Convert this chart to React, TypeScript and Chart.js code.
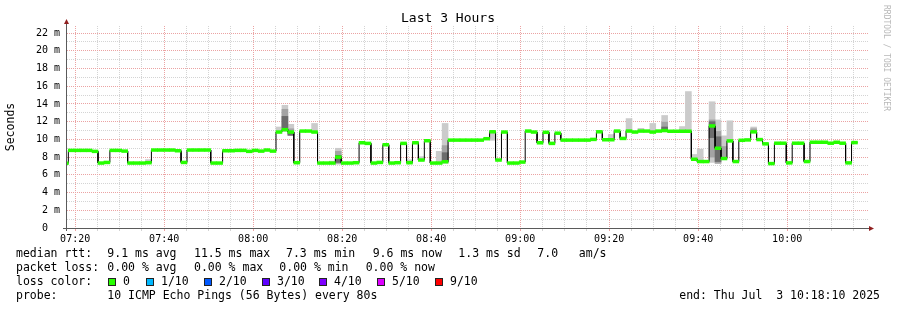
import { useEffect, useRef } from 'react';
import { Chart, registerables } from 'chart.js';
Chart.register(...registerables);

const FONT = '"DejaVu Sans Mono", monospace';

// ---- time axis (minutes after 07:00) ----
const VIEW_START = 18 + 10 / 60; // 07:18:10
const VIEW_END = VIEW_START + 180; // 10:18:10
const FIRST_SAMPLE = 17 + 8 / 60; // start of first 80 s sample
const SAMPLE_STEP = 80 / 60;

const xGridMinutes = [20, 25, 30, 35, 40, 45, 50, 55, 60, 65, 70, 75, 80, 85, 90, 95, 100, 105, 110, 115, 120, 125, 130, 135, 140, 145, 150, 155, 160, 165, 170, 175, 180, 185, 190, 195];
const xLabelMinutes = [20, 40, 60, 80, 100, 120, 140, 160, 180];
const xLabels = ['07:20', '07:40', '08:00', '08:20', '08:40', '09:00', '09:20', '09:40', '10:00'];

const yGridValues = [0, 1, 2, 3, 4, 5, 6, 7, 8, 9, 10, 11, 12, 13, 14, 15, 16, 17, 18, 19, 20, 21, 22];
const yLabelValues = [0, 2, 4, 6, 8, 10, 12, 14, 16, 18, 20, 22];
const yLabels = ['0  ', '2 m', '4 m', '6 m', '8 m', '10 m', '12 m', '14 m', '16 m', '18 m', '20 m', '22 m'];
const Y_MAX = 22.8;

// ---- median RTT per 80 s sample (ms) ----
const medianRtt = [
  7.3, 8.76, 8.76, 8.76, 8.76, 8.65, 7.33, 7.4, 8.76, 8.76,
  8.68, 7.33, 7.33, 7.33, 7.37, 8.8, 8.8, 8.8, 8.8, 8.72,
  7.4, 8.8, 8.8, 8.8, 8.8, 7.33, 7.33, 8.72, 8.72, 8.76,
  8.76, 8.65, 8.76, 8.68, 8.8, 8.68, 10.83, 11.1, 10.83, 7.37,
  10.94, 10.94, 10.83, 7.33, 7.33, 7.33, 8.0, 7.33, 7.33, 7.37,
  9.62, 9.55, 7.33, 7.4, 9.4, 7.33, 7.37, 9.55, 7.37, 9.62,
  7.67, 9.85, 7.33, 7.33, 7.48, 9.92, 9.92, 9.92, 9.92, 9.92,
  9.92, 10.08, 10.86, 7.67, 10.83, 7.33, 7.33, 7.44, 10.94, 10.83,
  9.62, 10.8, 9.55, 10.7, 9.92, 9.92, 9.92, 9.92, 9.92, 10.0,
  10.86, 9.96, 9.96, 10.94, 10.11, 10.94, 10.83, 10.94, 10.94, 10.83,
  10.94, 11.0, 10.92, 10.92, 10.92, 10.92, 7.76, 7.5, 7.5, 11.52,
  9.0, 7.84, 9.83, 7.5, 9.9, 9.94, 10.85, 9.98, 9.5, 7.27,
  9.57, 9.57, 7.35, 9.57, 9.57, 7.5, 9.68, 9.68, 9.68, 9.57,
  9.68, 9.57, 7.35, 9.64,
];

// ---- smoke (ping spread) for samples that show any ----
const smokeIndex = [14, 36, 37, 38, 42, 45, 46, 58, 60, 63, 64, 72, 92, 95, 97, 99, 101, 104, 105, 106, 107, 109, 110, 111, 112, 116];
const smokeLightLow = [7.33, 10.8, 10.9, 10.5, 10.8, 7.33, 7.2, 7.4, 7.6, 7.33, 7.3, 9.9, 10.0, 10.9, 10.9, 10.8, 10.9, 10.9, 10.9, 7.7, 7.5, 7.4, 7.3, 7.8, 9.8, 10.8];
const smokeLightHigh = [7.72, 11.4, 13.85, 11.7, 11.8, 7.55, 9.0, 7.7, 8.05, 8.65, 11.8, 10.9, 10.55, 12.35, 11.25, 11.8, 12.7, 11.45, 15.4, 8.3, 8.9, 14.25, 12.2, 10.4, 12.1, 11.4];
const smokeMidLow = [null, null, 11.2, 10.6, null, null, 7.3, null, null, null, 7.4, null, null, null, null, null, 11.0, null, null, null, null, 8.0, 7.3, 8.0, null, 10.9];
const smokeMidHigh = [null, null, 13.4, 11.2, null, null, 8.65, null, null, null, 9.3, null, null, null, null, null, 11.95, null, null, null, null, 12.2, 10.9, 9.2, null, 11.2];
const smokeDarkLow = [null, null, 11.3, 10.45, null, null, 7.4, null, null, null, 7.45, null, null, null, null, null, 11.05, null, null, null, null, 10.2, 7.5, null, null, null];
const smokeDarkHigh = [null, null, 12.6, 10.75, null, null, 8.2, null, null, null, 8.5, null, null, null, null, null, 11.4, null, null, null, null, 12.0, 10.3, null, null, null];

// ---- legend texts ----
const rttStats = ['9.1 ms avg', '11.5 ms max', '7.3 ms min', '9.6 ms now', '1.3 ms sd', '7.0   am/s'];
const rttStatX = [107.3, 194, 286, 372.7, 458.3, 537.3];
const lossStats = ['0.00 % avg', '0.00 % max', '0.00 % min', '0.00 % now'];
const lossStatX = [107.3, 194, 279.3, 365.7];
const lossLabels = ['0', '1/10', '2/10', '3/10', '4/10', '5/10', '9/10'];
const lossColors = ['#26ff00', '#00b8ff', '#0059ff', '#5e00ff', '#7e00ff', '#dd00ff', '#ff0000'];
const lossBoxX = [108.3, 146, 204, 261.7, 319.3, 377.3, 435];
const probeText = '10 ICMP Echo Pings (56 Bytes) every 80s';
const endText = 'end: Thu Jul  3 10:18:10 2025';

const GREEN = '#26ff00';
const GRID_MINOR = '#d4d4d4';
const GRID_MAJOR = '#eba3a3';
const AXIS = '#5a5a5a';
const ARROW = '#902020';
const BAND = 0.16;

const sampleStart = (i: number) => FIRST_SAMPLE + i * SAMPLE_STEP;
const sampleCenter = (i: number) => sampleStart(i) + SAMPLE_STEP / 2;

function smokeData(lo: (number | null)[], hi: (number | null)[]) {
  const out: { x: number; y: [number, number] }[] = [];
  smokeIndex.forEach((idx, k) => {
    const a = lo[k];
    const b = hi[k];
    if (a != null && b != null) out.push({ x: sampleCenter(idx), y: [a, b] });
  });
  return out;
}

const decorPlugin = {
  id: 'decor',
  afterDraw(chart: any) {
    const { ctx, chartArea: a } = chart;
    ctx.save();
    // axes
    ctx.strokeStyle = AXIS;
    ctx.lineWidth = 1;
    ctx.beginPath();
    ctx.moveTo(a.left - 0.5, a.bottom + 3);
    ctx.lineTo(a.left - 0.5, a.top - 2);
    ctx.moveTo(a.left - 4, a.bottom + 0.5);
    ctx.lineTo(a.right + 1, a.bottom + 0.5);
    ctx.stroke();
    ctx.fillStyle = ARROW;
    ctx.beginPath();
    ctx.moveTo(a.left - 3, a.top - 2);
    ctx.lineTo(a.left + 2, a.top - 2);
    ctx.lineTo(a.left - 0.5, a.top - 7);
    ctx.closePath();
    ctx.fill();
    ctx.beginPath();
    ctx.moveTo(a.right + 1, a.bottom - 2);
    ctx.lineTo(a.right + 1, a.bottom + 3);
    ctx.lineTo(a.right + 6, a.bottom + 0.5);
    ctx.closePath();
    ctx.fill();

    // title
    ctx.fillStyle = '#000';
    ctx.textBaseline = 'middle';
    ctx.textAlign = 'center';
    ctx.font = `13px ${FONT}`;
    ctx.fillText('Last 3 Hours', 448, 19);

    // y title
    ctx.save();
    ctx.translate(11, 127);
    ctx.rotate(-Math.PI / 2);
    ctx.font = `11.5px ${FONT}`;
    ctx.fillText('Seconds', 0, 0);
    ctx.restore();

    // watermark
    ctx.save();
    ctx.translate(886, 5);
    ctx.rotate(Math.PI / 2);
    ctx.textAlign = 'left';
    ctx.fillStyle = '#b8b8b8';
    ctx.font = `8px ${FONT}`;
    ctx.fillText('RRDTOOL / TOBI OETIKER', 0, 0);
    ctx.restore();

    // legend
    ctx.textAlign = 'left';
    ctx.font = `11.5px ${FONT}`;
    ctx.fillStyle = '#000';
    const rows = [254, 268, 282, 296];
    ctx.fillText('median rtt:', 16, rows[0]);
    rttStats.forEach((t, i) => ctx.fillText(t, rttStatX[i], rows[0]));
    ctx.fillText('packet loss:', 16, rows[1]);
    lossStats.forEach((t, i) => ctx.fillText(t, lossStatX[i], rows[1]));
    ctx.fillText('loss color:', 16, rows[2]);
    lossLabels.forEach((t, i) => {
      const bx = Math.round(lossBoxX[i]);
      ctx.fillStyle = lossColors[i];
      ctx.fillRect(bx, rows[2] - 4, 8, 8);
      ctx.strokeStyle = '#222';
      ctx.strokeRect(bx + 0.5, rows[2] - 3.5, 7, 7);
      ctx.fillStyle = '#000';
      ctx.fillText(t, bx + 15, rows[2]);
    });
    ctx.fillText('probe:', 16, rows[3]);
    ctx.fillText(probeText, 107.3, rows[3]);
    ctx.textAlign = 'right';
    ctx.fillText(endText, 880, rows[3]);
    ctx.restore();
  },
};

export default function App() {
  const ref = useRef<HTMLCanvasElement>(null);
  useEffect(() => {
    const lineData: { x: number; y: number }[] = [];
    medianRtt.forEach((v, i) => {
      lineData.push({ x: sampleStart(i), y: v });
      lineData.push({ x: sampleStart(i + 1), y: v });
    });
    const bandData = medianRtt.map((v, i) => ({ x: sampleCenter(i), y: [v - BAND, v + BAND] }));
    const barCommon = {
      type: 'bar' as const,
      grouped: false,
      barPercentage: 1,
      categoryPercentage: 1,
      borderWidth: 0,
      borderSkipped: false,
      clip: 0,
    };
    const chart = new Chart(ref.current as HTMLCanvasElement, {
      type: 'bar',
      data: {
        datasets: [
          { ...barCommon, label: 'median', data: bandData as any, backgroundColor: GREEN, order: 0 },
          {
            type: 'line', label: 'line', data: lineData as any, borderColor: '#000', borderWidth: 1,
            pointRadius: 0, fill: false, tension: 0, clip: 0, order: 1,
          } as any,
          { ...barCommon, label: 'dark', data: smokeData(smokeDarkLow, smokeDarkHigh) as any, backgroundColor: '#6c6c6c', order: 2 },
          { ...barCommon, label: 'mid', data: smokeData(smokeMidLow, smokeMidHigh) as any, backgroundColor: '#a4a4a4', order: 3 },
          { ...barCommon, label: 'light', data: smokeData(smokeLightLow, smokeLightHigh) as any, backgroundColor: '#cbcbcb', order: 4 },
        ],
      },
      options: {
        animation: false,
        responsive: false,
        devicePixelRatio: 1,
        events: [],
        layout: { padding: { top: 26, right: 29, left: 0, bottom: 0 } },
        plugins: { legend: { display: false }, tooltip: { enabled: false }, title: { display: false } },
        scales: {
          x: {
            type: 'linear',
            min: VIEW_START,
            max: VIEW_END,
            offset: false,
            afterBuildTicks: (s: any) => { s.ticks = xGridMinutes.map((v) => ({ value: v })); },
            afterFit: (s: any) => { s.height = 82; },
            grid: {
              offset: false,
              lineWidth: 1,
              tickLength: 3,
              color: (c: any) => (c.tick && xLabelMinutes.includes(c.tick.value) ? GRID_MAJOR : GRID_MINOR),
            },
            border: { display: false, dash: [1, 1] },
            ticks: {
              autoSkip: false,
              maxRotation: 0,
              padding: 2,
              color: '#000',
              font: { family: FONT, size: 10 },
              callback: (v: any) => {
                const k = xLabelMinutes.indexOf(Number(v));
                return k >= 0 ? xLabels[k] : '';
              },
            },
          },
          y: {
            type: 'linear',
            min: 0,
            max: Y_MAX,
            afterBuildTicks: (s: any) => { s.ticks = yGridValues.map((v) => ({ value: v })); },
            afterFit: (s: any) => { s.width = 67; },
            grid: {
              drawTicks: false,
              lineWidth: 1,
              color: (c: any) => (c.tick && yLabelValues.includes(c.tick.value) ? GRID_MAJOR : GRID_MINOR),
            },
            border: { display: false, dash: [1, 1] },
            ticks: {
              autoSkip: false,
              padding: 7,
              color: '#000',
              font: { family: FONT, size: 10 },
              callback: (v: any) => {
                const k = yLabelValues.indexOf(Number(v));
                return k >= 0 ? yLabels[k] : '';
              },
            },
          },
        },
      },
      plugins: [decorPlugin],
    } as any);
    return () => chart.destroy();
  }, []);
  return (
    <div style={{ position: 'fixed', left: 0, top: 0, width: 897, height: 310, background: '#fff' }}>
      <canvas ref={ref} width={897} height={310} style={{ display: 'block' }} />
    </div>
  );
}
